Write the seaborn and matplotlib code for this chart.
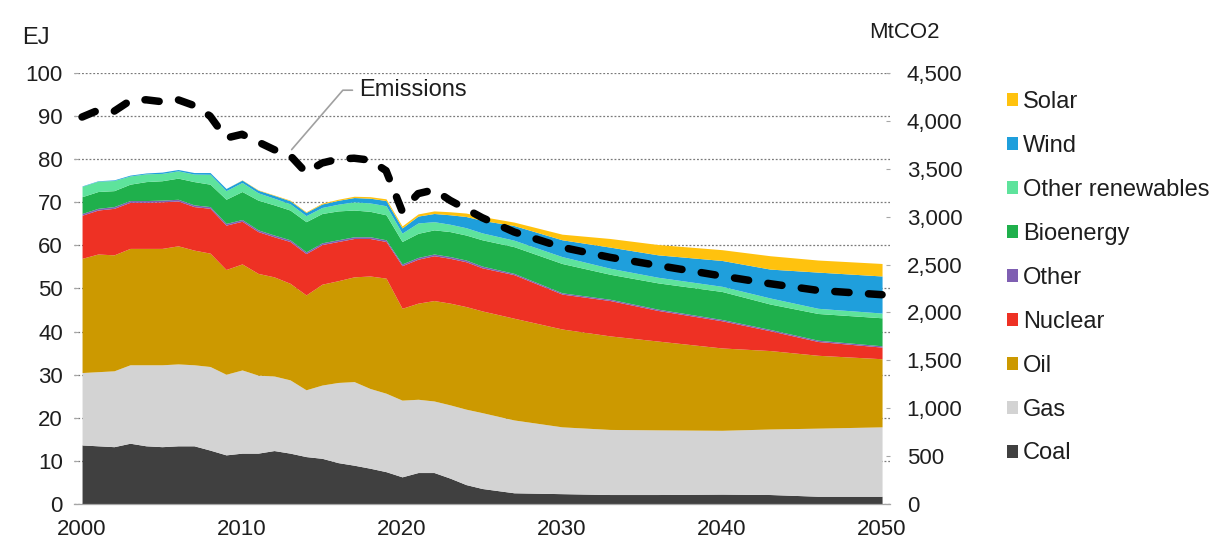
import matplotlib
matplotlib.use("Agg")
import matplotlib.pyplot as plt
from matplotlib.patches import Patch
from matplotlib.ticker import FuncFormatter, FixedLocator
import seaborn as sns

# annual history, then the projection points
years = list(range(2000, 2026)) + [2027, 2030, 2033, 2036, 2040, 2043, 2046, 2050]

# EJ per source (layer thickness, bottom to top)
coal = [13.7, 13.5, 13.3, 14.1, 13.5, 13.3, 13.5, 13.5, 12.5, 11.4, 11.8, 11.8, 12.4,
        11.8, 11.0, 10.6, 9.6, 9.0, 8.3, 7.5, 6.3, 7.3, 7.3, 6.0, 4.5, 3.6,
        2.6, 2.4, 2.2, 2.2, 2.3, 2.2, 1.8, 1.8]
gas = [16.8, 17.2, 17.6, 18.2, 18.8, 19.0, 19.0, 18.8, 19.4, 18.7, 19.3, 18.1, 17.3,
       17.0, 15.5, 17.0, 18.6, 19.4, 18.5, 18.2, 17.8, 17.0, 16.6, 17.0, 17.5, 17.6,
       16.9, 15.5, 15.1, 15.0, 14.8, 15.2, 15.8, 16.1]
oil = [26.5, 27.3, 26.9, 27.0, 27.0, 27.0, 27.4, 26.6, 26.3, 24.3, 24.6, 23.6, 23.0,
       22.4, 22.0, 23.4, 23.6, 24.3, 26.1, 26.7, 21.3, 22.3, 23.3, 23.6, 23.8, 23.6,
       23.6, 22.7, 21.7, 20.6, 19.1, 18.2, 16.9, 15.8]
nuclear = [10.0, 10.2, 10.8, 10.7, 10.7, 10.8, 10.4, 10.1, 10.4, 10.3, 9.9, 9.7, 9.3,
           9.7, 9.6, 9.2, 9.1, 8.9, 8.7, 8.5, 9.9, 10.2, 10.4, 10.4, 10.4, 10.0,
           10.1, 8.1, 8.2, 7.1, 6.3, 4.6, 3.2, 2.7]
other = [0.4] * 26 + [0.3] * 8
bioenergy = [3.9, 3.9, 3.7, 3.8, 4.4, 4.5, 4.9, 5.4, 5.2, 5.6, 6.5, 6.9, 7.0,
             6.9, 7.0, 6.8, 6.7, 6.2, 5.9, 5.8, 5.2, 5.6, 5.6, 5.8, 5.8, 6.1,
             6.2, 6.8, 5.8, 6.1, 6.5, 5.9, 6.2, 6.5]
other_ren = [2.4, 2.4, 2.35, 1.9, 1.8, 1.7, 1.7, 1.75, 2.3, 2.0, 2.1, 1.7, 1.55,
             1.45, 1.4, 1.4, 1.55, 1.9, 1.95, 2.1, 1.95, 2.4, 1.9, 1.7, 1.7, 1.6,
             1.5, 1.6, 1.4, 1.3, 1.2, 1.4, 1.2, 1.1]
wind = [0.1, 0.1, 0.15, 0.2, 0.2, 0.3, 0.3, 0.35, 0.4, 0.5, 0.55, 0.6, 0.65,
        0.7, 0.75, 0.8, 0.9, 1.0, 1.1, 1.2, 1.2, 1.6, 1.9, 2.2, 2.6, 2.9,
        3.4, 3.9, 4.9, 5.2, 6.0, 6.7, 8.4, 8.6]
solar = [0.0] * 10 + [0.05, 0.1, 0.1, 0.15, 0.15, 0.2, 0.25, 0.3, 0.35, 0.4, 0.45,
                      0.5, 0.6, 0.7, 0.8, 0.9, 0.8, 1.3, 2.0, 2.4, 2.5, 3.1, 2.8, 2.9]

# MtCO2, right axis
emissions = [4040, 4110, 4100, 4210, 4220, 4200, 4220, 4160, 4050, 3820, 3860, 3780, 3700,
             3640, 3460, 3560, 3600, 3610, 3590, 3480, 3060, 3240, 3280, 3170, 3080, 2990,
             2840, 2680, 2575, 2490, 2380, 2300, 2230, 2185]

labels = ["Coal", "Gas", "Oil", "Nuclear", "Other", "Bioenergy", "Other renewables", "Wind", "Solar"]
colors = ["#404040", "#d3d3d3", "#cc9900", "#ee3124", "#7f5fb2", "#1fb04c",
          "#5ee39c", "#1f9fdc", "#ffc20e"]

sns.set_style("white")
plt.rcParams["font.family"] = ["Liberation Sans", "DejaVu Sans"]
txt = "#1e1e1e"
fs = 16

fig = plt.figure(figsize=(12.28, 5.47), dpi=100)
ax = fig.add_axes([0.0603, 0.0786, 0.6645, 0.788])

ax.stackplot(years, coal, gas, oil, nuclear, other, bioenergy, other_ren, wind, solar,
             colors=colors, linewidth=0)
ax.set_xlim(1999.5, 2050.5)
ax.set_ylim(0, 100)
ax.set_axisbelow(True)
ax.yaxis.grid(True, linestyle=(0, (1.5, 1.5)), color="#7a7a7a", linewidth=0.9)
ax.set_yticks(range(0, 101, 10))
ax.set_xticks(range(2000, 2051, 10))
ax.xaxis.set_minor_locator(FixedLocator([y + 0.5 for y in range(1999, 2051)]))
ax.tick_params(axis="x", which="major", length=0, pad=11, labelsize=fs, labelcolor=txt)
ax.tick_params(axis="x", which="minor", length=5, width=0.8, color="#a6a6a6", direction="out")
ax.tick_params(axis="y", length=3, width=0.8, color="#a6a6a6", direction="in",
               pad=8, labelsize=fs, labelcolor=txt)
for s in ["top", "left", "right"]:
    ax.spines[s].set_visible(False)
ax.spines["bottom"].set_color("#a6a6a6")
ax.spines["bottom"].set_linewidth(0.9)

ax2 = ax.twinx()
sns.lineplot(x=years, y=emissions, ax=ax2, color="black", linewidth=5.4,
             linestyle=(0, (1.9, 2.6)), dash_capstyle="round")
ax2.set_ylim(0, 4500)
ax2.set_yticks(range(0, 4501, 500))
ax2.yaxis.set_major_formatter(FuncFormatter(lambda v, p: f"{int(v):,}"))
ax2.tick_params(axis="y", length=3, width=0.8, color="#a6a6a6", direction="in",
                pad=12, labelsize=fs, labelcolor=txt)
for s in ["top", "left", "right", "bottom"]:
    ax2.spines[s].set_visible(False)

# leader for the emissions label
ax2.plot([2013.1, 2016.3, 2016.9], [3700, 4320, 4320], color="#a0a0a0", linewidth=1.2)
ax2.text(2017.3, 4320, "Emissions", fontsize=17, color=txt, va="center", ha="left")

fig.text(0.018, 0.93, "EJ", fontsize=17, color=txt, va="center", ha="left")
fig.text(0.708, 0.94, "MtCO2", fontsize=16, color=txt, va="center", ha="left")

handles = [Patch(facecolor=c, edgecolor="none", label=l) for l, c in zip(labels, colors)][::-1]
fig.legend(handles=handles, loc="upper left", bbox_to_anchor=(995 / 1228, 1 - 79 / 547),
           frameon=False, fontsize=17, handlelength=0.47, handleheight=0.47,
           handletextpad=0.22, labelspacing=0.93, borderpad=0, labelcolor=txt)

fig.savefig("out.png", dpi=100)
